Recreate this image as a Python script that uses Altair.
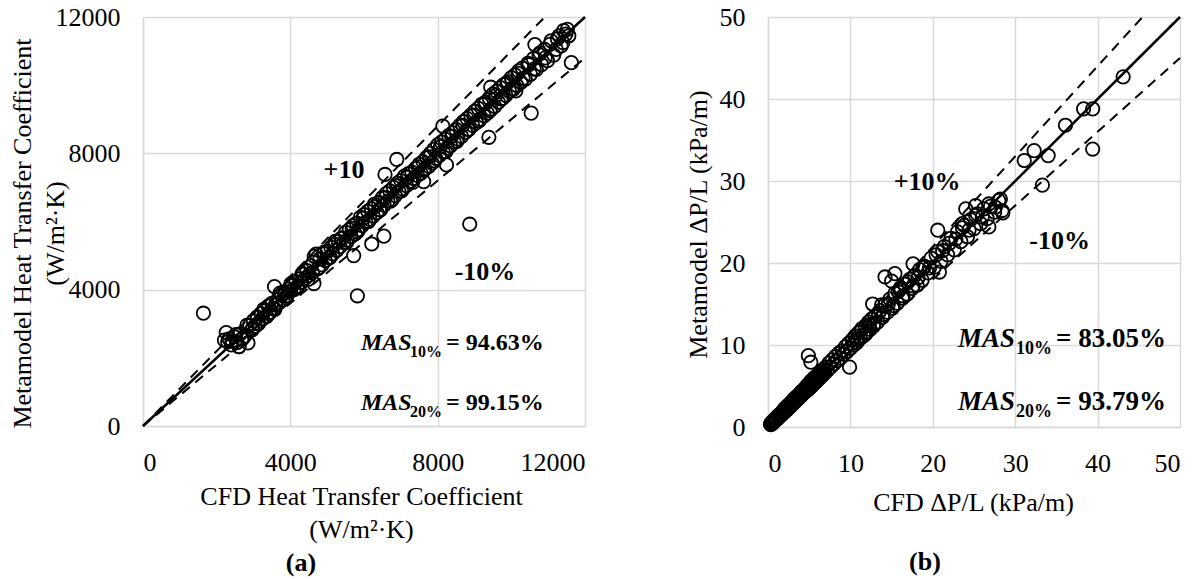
import altair as alt
import pandas as pd

# ---------------- data ----------------
hcf_cfd = [
    2210, 2260, 2300, 2340, 2420, 2480, 2550, 2600, 2640, 2700,
    2760, 2850, 2900, 2960, 3000, 3050, 3100, 3140, 3200, 3250,
    3300, 3360, 3400, 3450, 3500, 3540, 3600, 3650, 3700, 3760,
    3800, 3850, 3900, 3950, 4000, 4050, 4100, 4150, 4200, 4250,
    4300, 4350, 4400, 4450, 4500, 4560, 4600, 4650, 4700, 4750,
    4800, 4860, 4900, 4950, 5000, 5050, 5100, 5150, 5200, 5260,
    5300, 5350, 5400, 5450, 5500, 5550, 5600, 5650, 5700, 5760,
    5800, 5850, 5900, 5950, 6000, 6050, 6100, 6160, 6200, 6250,
    6300, 6350, 6400, 6450, 6500, 6550, 6600, 6650, 6700, 6760,
    6800, 6850, 6900, 6950, 7000, 7050, 7100, 7150, 7200, 7260,
    7300, 7350, 7400, 7450, 7500, 7550, 7600, 7650, 7700, 7760,
    7800, 7850, 7900, 7950, 8000, 8050, 8100, 8150, 8200, 8260,
    8300, 8350, 8400, 8450, 8500, 8550, 8600, 8650, 8700, 8760,
    8800, 8850, 8900, 8950, 9000, 9050, 9100, 9150, 9200, 9260,
    9300, 9350, 9400, 9450, 9500, 9550, 9600, 9650, 9700, 9760,
    9800, 9850, 9900, 9950, 10000, 10050, 10100, 10150, 10200, 10260,
    10300, 10380, 10450, 10520, 10600, 10680, 10750, 10820, 10900, 10980,
    11050, 11150, 11250, 11350, 11420, 11480, 11520, 11560, 11400, 11300,
    1640, 5820, 8870, 6210, 6540, 5720, 10540, 11630, 3570, 6890,
    6570, 8140, 9440, 10640, 8240, 2610, 4640, 7620, 9390, 10120,
    2400, 2520, 2680, 2820, 2980, 3120, 3280, 3420, 3580, 3720,
    3880, 4020, 4180, 4320, 4480, 4620, 4780, 4920, 5080, 5220,
    5380, 5520, 5680, 5820, 5980, 6120, 6280, 6420, 6580, 6720,
    6880, 7020, 7180, 7320, 7480, 7620, 7780, 7920, 8080, 8220,
    8380, 8520, 8680, 8820, 8980, 9120, 9280, 9420, 9580, 9720,
    9880, 10020, 10180, 10320, 10480, 10620, 10780, 10920, 11080, 11220,
]
hcf_meta = [
    2520, 2740, 2470, 2560, 2500, 2620, 2450, 2330, 2700, 2560,
    2640, 2440, 2960, 2820, 3090, 2930, 3200, 3010, 3300, 3140,
    3380, 3220, 3520, 3340, 3600, 3450, 3560, 3700, 3620, 3850,
    3700, 3900, 3820, 4020, 3950, 4120, 4000, 4230, 4100, 4320,
    4210, 4450, 4330, 4560, 4420, 4700, 4500, 4980, 5040, 4620,
    4900, 4730, 5060, 4850, 5120, 4940, 5240, 5050, 5330, 5150,
    5420, 5260, 5520, 5380, 5680, 5450, 5760, 5560, 5880, 5640,
    5950, 5760, 6120, 5880, 6200, 5980, 6300, 6060, 6380, 6160,
    6440, 6260, 6560, 6340, 6700, 6480, 6820, 6600, 6900, 6640,
    7000, 6760, 7120, 6880, 7200, 6960, 7330, 7050, 7400, 7180,
    7450, 7260, 7560, 7350, 7680, 7420, 7760, 7540, 7880, 7620,
    8000, 7720, 8120, 7850, 8250, 7940, 8330, 8040, 8420, 8150,
    8520, 8220, 8600, 8330, 8700, 8420, 8820, 8500, 8930, 8620,
    9020, 8700, 9120, 8820, 9230, 8900, 9320, 9000, 9440, 9100,
    9500, 9180, 9620, 9300, 9740, 9380, 9820, 9500, 9930, 9610,
    10020, 9700, 10100, 9820, 10220, 9880, 10300, 9990, 10420, 10080,
    10500, 10180, 10640, 10320, 10780, 10460, 10900, 10600, 11050, 10720,
    11200, 10880, 11360, 11150, 11600, 11500, 11640, 11450, 11250, 11450,
    3310, 3820, 5920, 5340, 5570, 5000, 9180, 10660, 4090, 7820,
    7380, 8800, 9940, 11190, 7660, 2330, 4180, 7170, 8470, 9830,
    2380, 2680, 2550, 2950, 2880, 3000, 3420, 3300, 3420, 3900,
    3760, 4180, 4050, 4470, 4300, 4800, 4650, 5100, 4950, 5420,
    5500, 5380, 5800, 5700, 6100, 6000, 6500, 6350, 6700, 6600,
    7050, 6900, 7300, 7150, 7600, 7500, 7900, 7780, 8200, 8050,
    8500, 8350, 8820, 8700, 9120, 8950, 9450, 9250, 9700, 9600,
    10050, 9900, 10350, 10200, 10600, 10480, 10950, 10800, 11300, 11050,
]

dp_cfd = [
    0.3, 0.35, 0.4, 0.45, 0.5, 0.55, 0.6, 0.65, 0.7, 0.75,
    0.8, 0.9, 1.0, 1.1, 1.2, 1.3, 1.4, 1.5, 1.6, 1.7,
    1.8, 1.9, 2.0, 2.1, 2.2, 2.3, 2.4, 2.5, 2.6, 2.7,
    2.8, 2.9, 3.0, 3.1, 3.2, 3.3, 3.4, 3.5, 3.6, 3.7,
    3.8, 3.9, 4.0, 4.1, 4.2, 4.3, 4.4, 4.5, 4.6, 4.7,
    4.8, 4.9, 5.0, 5.1, 5.2, 5.3, 5.4, 5.5, 5.6, 5.7,
    5.8, 5.9, 6.0, 6.1, 6.2, 6.3, 6.4, 6.5, 6.6, 6.7,
    6.8, 6.9, 7.0, 7.2, 7.4, 7.6, 7.8, 8.0, 8.2, 8.4,
    8.6, 8.8, 9.0, 9.2, 9.4, 9.6, 9.8, 10.0, 10.2, 10.4,
    10.6, 10.8, 11.0, 11.2, 11.4, 11.6, 11.8, 12.0, 12.2, 12.4,
    12.6, 12.8, 13.0, 13.3, 13.6, 13.9, 14.2, 14.5, 14.8, 15.1,
    15.4, 15.7, 16.0, 16.3, 16.6, 16.9, 17.2, 17.5, 17.8, 18.1,
    18.4, 18.7, 19.0, 19.4, 19.8, 20.2, 20.6, 21.0, 21.4, 21.8,
    22.2, 22.6, 23.0, 23.4, 23.8, 24.2, 24.6, 25.0, 25.4, 25.8,
    26.2, 26.6, 27.0, 27.5, 28.0, 28.4, 24.0, 25.2, 26.8, 23.6,
    43.1, 38.3, 39.4, 39.4, 36.1, 34.0, 31.1, 32.3, 33.3, 28.2,
    20.6, 20.8, 17.6, 14.2, 15.4, 12.7, 4.9, 9.9, 5.2, 28.5,
    10.3, 10.9, 11.3, 11.9, 12.3, 12.9, 13.4, 14.0, 14.6, 15.2,
    15.8, 16.4, 17.0, 17.6, 18.2, 18.8, 19.6, 20.4, 21.2, 22.0,
    22.8, 23.6, 24.4, 25.2, 26.0, 26.8, 27.6, 13.8, 15.0, 16.1,
]
dp_meta = [
    0.35, 0.3, 0.5, 0.4, 0.6, 0.45, 0.7, 0.55, 0.8, 0.65,
    0.9, 0.8, 1.1, 0.95, 1.35, 1.15, 1.5, 1.35, 1.7, 1.55,
    1.95, 1.75, 2.2, 1.9, 2.4, 2.1, 2.6, 2.3, 2.8, 2.5,
    3.0, 2.7, 3.2, 2.9, 3.45, 3.1, 3.6, 3.3, 3.8, 3.5,
    4.0, 3.7, 4.25, 3.9, 4.45, 4.1, 4.6, 4.3, 4.85, 4.45,
    5.1, 4.6, 5.3, 4.8, 5.6, 5.0, 5.7, 5.2, 6.0, 5.4,
    6.1, 5.6, 6.3, 5.8, 6.5, 6.0, 6.7, 6.2, 6.9, 6.4,
    7.1, 6.6, 7.3, 6.9, 7.8, 7.3, 8.2, 7.7, 8.6, 8.1,
    9.0, 8.4, 9.3, 8.9, 9.8, 9.2, 10.2, 9.6, 10.6, 10.0,
    11.1, 10.3, 11.5, 10.8, 12.0, 11.1, 12.3, 11.6, 12.8, 11.9,
    13.2, 12.3, 13.5, 12.8, 14.2, 13.4, 14.9, 14.0, 15.6, 14.5,
    16.3, 15.1, 16.8, 15.7, 17.4, 16.2, 18.0, 16.9, 18.5, 17.3,
    19.2, 17.9, 19.6, 18.8, 20.6, 19.5, 21.4, 20.2, 22.0, 21.0,
    23.0, 21.6, 23.8, 22.6, 24.6, 23.2, 25.3, 24.2, 26.0, 24.8,
    26.6, 25.4, 26.9, 26.2, 27.6, 26.4, 26.6, 27.0, 24.4, 24.8,
    42.7, 38.8, 38.8, 33.9, 36.8, 33.1, 32.5, 33.7, 29.5, 27.8,
    24.0, 18.9, 19.9, 18.3, 18.7, 15.0, 8.7, 7.3, 7.9, 26.1,
    10.7, 10.6, 11.8, 11.4, 12.5, 12.6, 13.9, 13.7, 15.0, 14.8,
    16.5, 16.0, 17.7, 17.2, 18.2, 19.4, 19.4, 21.0, 21.5, 22.4,
    22.9, 24.3, 24.0, 25.8, 25.6, 27.2, 26.8, 14.9, 17.8, 17.0,
]

hcf_ticks = [0, 4000, 8000, 12000]
dp_ticks = [0, 10, 20, 30, 40, 50]
hcf_max = 12000
dp_max = 50

# ---------------- style ----------------
FONT = "Liberation Serif, Times New Roman, serif"
GRID = "#d9d9d9"


def panel(cfd, meta, vmax, ticks, w, h, xtitle, ytitle, xt, yt, caption, cap_xy,
          notes, mas, mas_size, sub_size, sub_dx, eq_dx, mas_texts):
    xs = alt.Scale(domain=[0, vmax], nice=False, zero=True)
    ys = alt.Scale(domain=[0, vmax], nice=False, zero=True)
    common = dict(grid=True, gridColor=GRID, gridWidth=1.5, domainColor=GRID,
                  domainWidth=1.5, ticks=False, labelFont=FONT, labelFontSize=26,
                  labelColor="black", labelPadding=23, format="d", titleFont=FONT,
                  titleFontSize=26, titleFontWeight="normal", titleColor="black",
                  titleLineHeight=33, titleBaseline="middle")
    xaxis = alt.Axis(values=ticks, title=xtitle, titleX=xt[0], titleY=xt[1],
                     titleAlign="center", **common)
    yaxis = alt.Axis(values=ticks, title=ytitle, titleX=yt[0], titleY=yt[1],
                     titleAngle=-90, titleAlign="center", **common)

    pts = pd.DataFrame({"x": cfd, "y": meta})
    base = alt.Chart(pts).mark_point(shape="circle", filled=False, size=180,
                                     strokeWidth=1.8, color="black", opacity=1).encode(
        x=alt.X("x:Q", scale=xs, axis=xaxis),
        y=alt.Y("y:Q", scale=ys, axis=yaxis),
    )

    solid = pd.DataFrame({"x": [0, vmax], "y": [0, vmax]})
    dashed = pd.DataFrame({
        "x": [0, vmax / 1.1, 0, vmax],
        "y": [0, vmax, 0, vmax * 0.9],
        "s": ["up", "up", "lo", "lo"],
    })
    l_solid = alt.Chart(solid).mark_line(color="black", strokeWidth=2.5).encode(
        x=alt.X("x:Q", scale=xs), y=alt.Y("y:Q", scale=ys))
    l_dash = alt.Chart(dashed).mark_line(color="black", strokeWidth=2,
                                         strokeDash=[10, 7]).encode(
        x=alt.X("x:Q", scale=xs), y=alt.Y("y:Q", scale=ys), detail="s:N")

    layers = [l_solid, l_dash, base]

    def txt(x, y, t, size, italic=False, dx=0, dy=0, align="left"):
        return alt.Chart(pd.DataFrame({"x": [x], "y": [y], "t": [t]})).mark_text(
            font=FONT, fontSize=size, fontWeight="bold",
            fontStyle="italic" if italic else "normal", align=align,
            baseline="alphabetic", dx=dx, dy=dy, color="black").encode(
            x=alt.X("x:Q", scale=xs), y=alt.Y("y:Q", scale=ys), text="t:N")

    for (nx, ny, nt) in notes:
        layers.append(txt(nx, ny, nt, 26, align="center"))
    mx, my1, my2 = mas
    for yy, (sub, val) in zip([my1, my2], mas_texts):
        layers.append(txt(mx, yy, "MAS", mas_size, italic=True))
        layers.append(txt(mx, yy, sub, sub_size, dx=sub_dx, dy=7))
        layers.append(txt(mx, yy, val, mas_size, dx=eq_dx))

    cap = alt.Chart(pd.DataFrame({"t": [caption]})).mark_text(
        font=FONT, fontSize=26, fontWeight="bold", align="center",
        baseline="middle", color="black").encode(
        x=alt.value(cap_xy[0]), y=alt.value(cap_xy[1]), text="t:N")
    layers.append(cap)

    return alt.layer(*layers).properties(width=w, height=h)


left = panel(
    hcf_cfd, hcf_meta, hcf_max, hcf_ticks, 442, 409,
    ["CFD Heat Transfer Coefficient", "(W/m\u00b2\u00b7K)"],
    ["Metamodel Heat Transfer Coefficient", "(W/m\u00b2\u00b7K)"],
    (218, 70), (-121, 216), "(a)", (158, 546),
    [(5457, 7276, "+10"), (9285, 4284, "-10%")],
    (5919, 2230, 469), 24, 16, 49, 85,
    [("10%", "= 94.63%"), ("20%", "= 99.15%")],
)
right = panel(
    dp_cfd, dp_meta, dp_max, dp_ticks, 412, 410,
    "CFD \u0394P/L (kPa/m)",
    "Metamodel \u0394P/L (kPa/m)",
    (205, 75), (-70, 207), "(b)", (157, 545),
    [(19.3, 28.9, "+10%"), (35.4, 21.7, "-10%")],
    (23.06, 9.76, 2.07), 27, 18, 58, 98,
    [("10%", "= 83.05%"), ("20%", "= 93.79%")],
)

chart = alt.hconcat(left, right, spacing=93).properties(
    padding={"left": 0, "top": -5, "right": 0, "bottom": 0}
).configure_view(stroke=GRID, strokeWidth=1.5).configure(background="white")

chart.save("out.html", embed_options={"renderer": "svg", "actions": False})
